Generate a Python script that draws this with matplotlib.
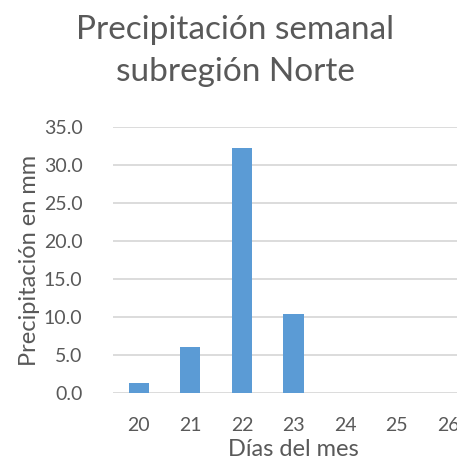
import matplotlib
matplotlib.use("Agg")
import matplotlib.pyplot as plt

days = ["20", "21", "22", "23", "24", "25", "26"]
precip = [1.3, 6.1, 32.3, 10.4, 0, 0, 0]
yticks = [0, 5, 10, 15, 20, 25, 30, 35]
title = "Precipitación semanal\nsubregión Norte"
xlabel = "Días del mes"
ylabel = "Precipitación en mm"

plt.rcParams['font.family'] = ['Lato', 'DejaVu Sans']
TXT = "#595959"
W, H = 457, 473
fig = plt.figure(figsize=(W / 100, H / 100), dpi=100)
ax = fig.add_axes([113 / W, 80 / H, 361 / W, 266 / H])

x = list(range(len(days)))
ax.bar(x, precip, width=0.39, color="#5B9BD5", zorder=3)
ax.set_xlim(-0.5, len(days) - 0.5)
ax.set_ylim(0, 35)
ax.set_yticks(yticks)
ax.set_yticklabels([f"{v:.1f}" for v in yticks])
ax.set_xticks(x)
ax.set_xticklabels(days)
ax.grid(axis="y", color="#D9D9D9", linewidth=1.3, zorder=0)
for s in ax.spines.values():
    s.set_visible(False)
ax.tick_params(axis="both", length=0, labelsize=14, colors=TXT)
ax.tick_params(axis="y", pad=22)
ax.tick_params(axis="x", pad=17)
ax.set_xlabel(xlabel, fontsize=17, color=TXT, labelpad=4)
ax.set_ylabel(ylabel, fontsize=17, color=TXT, labelpad=3)
fig.text(235 / W, 1 - 15 / H, title, ha="center", va="top", fontsize=24,
         color=TXT, linespacing=1.5)
fig.savefig("out.png", dpi=100)
